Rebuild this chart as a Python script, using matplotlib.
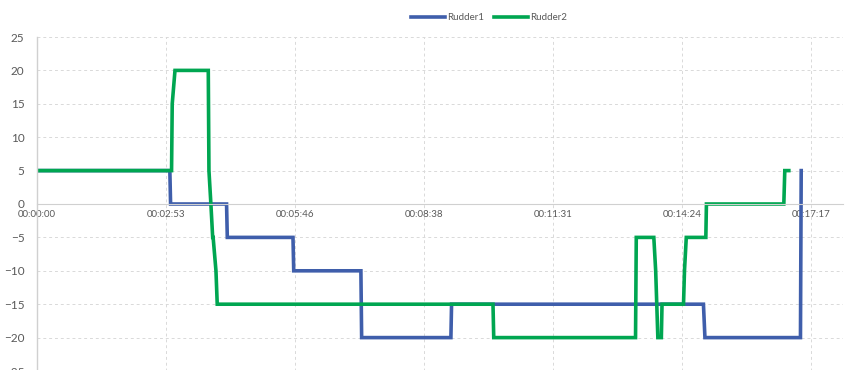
import numpy as np
import matplotlib
matplotlib.use('Agg')
import matplotlib.pyplot as plt
from matplotlib.ticker import FuncFormatter, MultipleLocator

# elapsed time in seconds, rudder angle in degrees
rudder1_t = [0, 178, 179, 254, 255, 343, 344, 434, 435, 554.6, 555.5, 893, 895, 1023, 1024]
rudder1_v = [5, 5, 0, 0, -5, -5, -10, -10, -20, -20, -15, -15, -20, -20, 5]

rudder2_t = [0, 180.3, 181.2, 184.9, 229.5, 230.4, 233, 235.4, 236, 239.8, 241.5,
             611, 612, 802, 803, 826.5, 829, 831.9, 836.6, 837.5, 866.3, 867.6, 870,
             896.2, 897, 1000.7, 1002, 1007.4]
rudder2_v = [5, 5, 15, 20, 20, 5, 0, -5, -5, -10, -15,
             -15, -20, -20, -5, -5, -10, -20, -20, -15, -15, -10, -5,
             -5, 0, 0, 5, 5]

series_names = ['Rudder1', 'Rudder2']
series_colors = ['#3F5EAB', '#00A651']

day_step = 172.8  # 0.002 day, Excel major unit


def hms(x, pos):
    s = int(round(x))
    return '%02d:%02d:%02d' % (s // 3600, (s % 3600) // 60, s % 60)


plt.rcParams['font.family'] = ['Lato', 'DejaVu Sans']

fig = plt.figure(figsize=(8.46, 3.70), dpi=100)
ax = fig.add_axes([37 / 846, -1 / 370, 806 / 846, 334 / 370])

ax.plot(rudder1_t, rudder1_v, color=series_colors[0], lw=2.6, label=series_names[0],
        solid_joinstyle='miter')
ax.plot(rudder2_t, rudder2_v, color=series_colors[1], lw=2.6, label=series_names[1],
        solid_joinstyle='miter')

ax.set_xlim(0, 1080)
ax.set_ylim(-25, 25)
ax.xaxis.set_major_locator(MultipleLocator(day_step))
ax.xaxis.set_major_formatter(FuncFormatter(hms))
ax.yaxis.set_major_locator(MultipleLocator(5))

ax.grid(True, color='#D9D9D9', ls=(0, (3, 3)), lw=0.7)
ax.set_axisbelow(True)

for s in ['top', 'right']:
    ax.spines[s].set_visible(False)
ax.spines['bottom'].set_position(('data', 0))
ax.spines['bottom'].set_color('#D0D0D0')
ax.spines['left'].set_color('#D0D0D0')
ax.spines['left'].set_linewidth(1.0)
ax.tick_params(axis='both', length=0, colors='#595959')
ax.tick_params(axis='y', labelsize=8.5, pad=9)
ax.tick_params(axis='x', labelsize=7, pad=4)

fig.legend(loc='center', bbox_to_anchor=(489 / 846, 1 - 18 / 370), ncol=2, frameon=False,
           fontsize=7, handlelength=3.5, handletextpad=0.2, columnspacing=1.0,
           labelcolor='#595959')

fig.savefig('out.png', dpi=100)
